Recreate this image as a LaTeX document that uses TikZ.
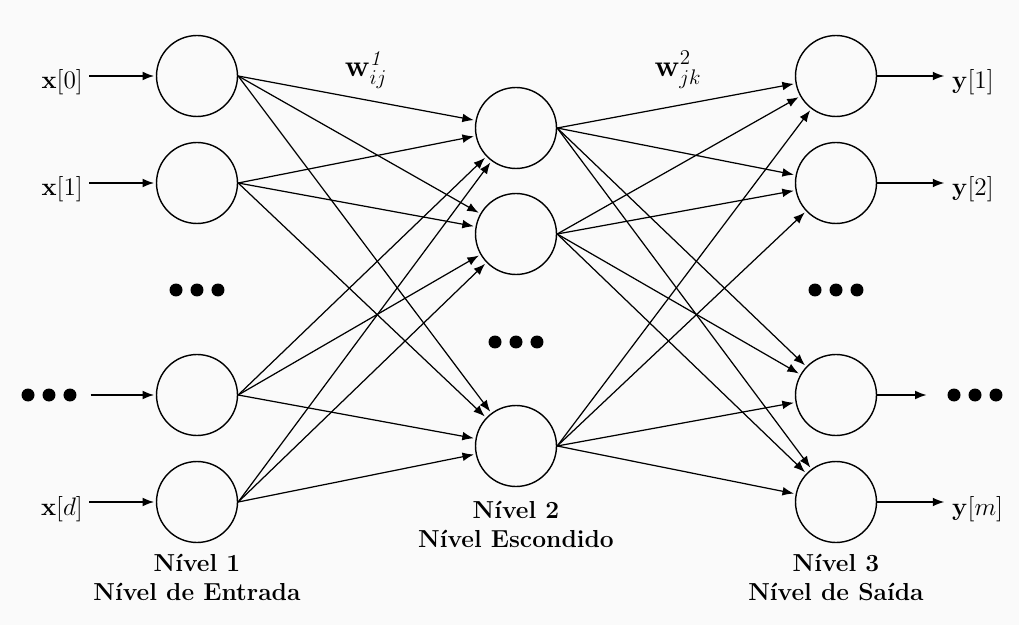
\documentclass[tikz,border=0pt]{standalone}
\usepackage{amsmath}
\usetikzlibrary{arrows.meta}
\definecolor{paper}{RGB}{250,250,250}

\tikzset{
  neuron/.style={draw, circle, line width=0.8pt, minimum size=1.62cm, inner sep=0pt},
  conn/.style={-{Latex[length=6.5pt,width=5pt]}, line width=0.7pt, shorten >=1pt},
  iolabel/.style={inner sep=0.333em, font=\fontsize{14}{17}\selectfont},
  weight/.style={inner sep=1pt, font=\fontsize{18}{20}\selectfont},
  layername/.style={align=center, font=\fontsize{14}{16.5}\selectfont\bfseries},
}
\newcommand{\dotrow}{\tikz\foreach \k in {0,1,2} \fill (\k*0.42cm,0) circle (0.13cm);}

\begin{document}
\begin{tikzpicture}[x=0.02cm, y=-0.02cm]
            \fill[paper] (0,0) rectangle (1019,625);
            % input layer
            \node[neuron] (n11) at (197, 76) {};
            \node[neuron] (n12) at (197,183) {};
            \node[neuron] (n13) at (197,395) {};
            \node[neuron] (n14) at (197,502) {};
            % hidden layer
            \node[neuron] (n21) at (516,128) {};
            \node[neuron] (n22) at (516,234) {};
            \node[neuron] (n23) at (516,446) {};
            % output layer
            \node[neuron] (n31) at (836, 76) {};
            \node[neuron] (n32) at (836,183) {};
            \node[neuron] (n33) at (836,395) {};
            \node[neuron] (n34) at (836,502) {};
            % elided units
            \node (d1)    at (197,290) {\dotrow};
            \node (d2)    at (516,342) {\dotrow};
            \node (d3)    at (836,290) {\dotrow};
            \node (xdots) at ( 49,395) {\dotrow};
            \node (ydots) at (975,395) {\dotrow};
            % inputs and outputs
            \node[iolabel, anchor=base east] (x0) at ( 89, 89) {$\mathbf{x}[0]$};
            \node[iolabel, anchor=base east] (x1) at ( 89,196) {$\mathbf{x}[1]$};
            \node[iolabel, anchor=base east] (xd) at ( 89,515) {$\mathbf{x}[d]$};
            \node[iolabel, anchor=base west] (y1) at (946, 89) {$\mathbf{y}[1]$};
            \node[iolabel, anchor=base west] (y2) at (946,196) {$\mathbf{y}[2]$};
            \node[iolabel, anchor=base west] (ym) at (946,515) {$\mathbf{y}[m]$};
            \draw[conn] (x0.east |- n11)   -- (n11);
            \draw[conn] (x1.east |- n12)   -- (n12);
            \draw[conn] ([xshift=0.16cm]xdots.east) -- (n13);
            \draw[conn] (xd.east |- n14)   -- (n14);
            \draw[conn] (n31) -- (y1.west |- n31);
            \draw[conn] (n32) -- (y2.west |- n32);
            \draw[conn] (n33) -- ([xshift=-0.26cm]ydots.west);
            \draw[conn] (n34) -- (ym.west |- n34);
            % weights
            \foreach \i in {1,...,4}
                \foreach \j in {1,2,3}
                    \draw[conn] (n1\i.east) -- (n2\j);
            \foreach \j in {1,2,3}
                \foreach \k in {1,...,4}
                    \draw[conn] (n2\j.east) -- (n3\k);
            \node[weight] (w1) at (366,70) {$\mathbf{w}^{\mathit{1}}_{ij}$};
            \node[weight] (w2) at (678,70) {$\mathbf{w}^{2}_{jk}$};
            % layer names
            \node[layername] (l1) at (197,577) {Nível 1\\Nível de Entrada};
            \node[layername] (l2) at (516,524) {Nível 2\\Nível Escondido};
            \node[layername] (l3) at (836,577) {Nível 3\\Nível de Saída};
\end{tikzpicture}
\end{document}
